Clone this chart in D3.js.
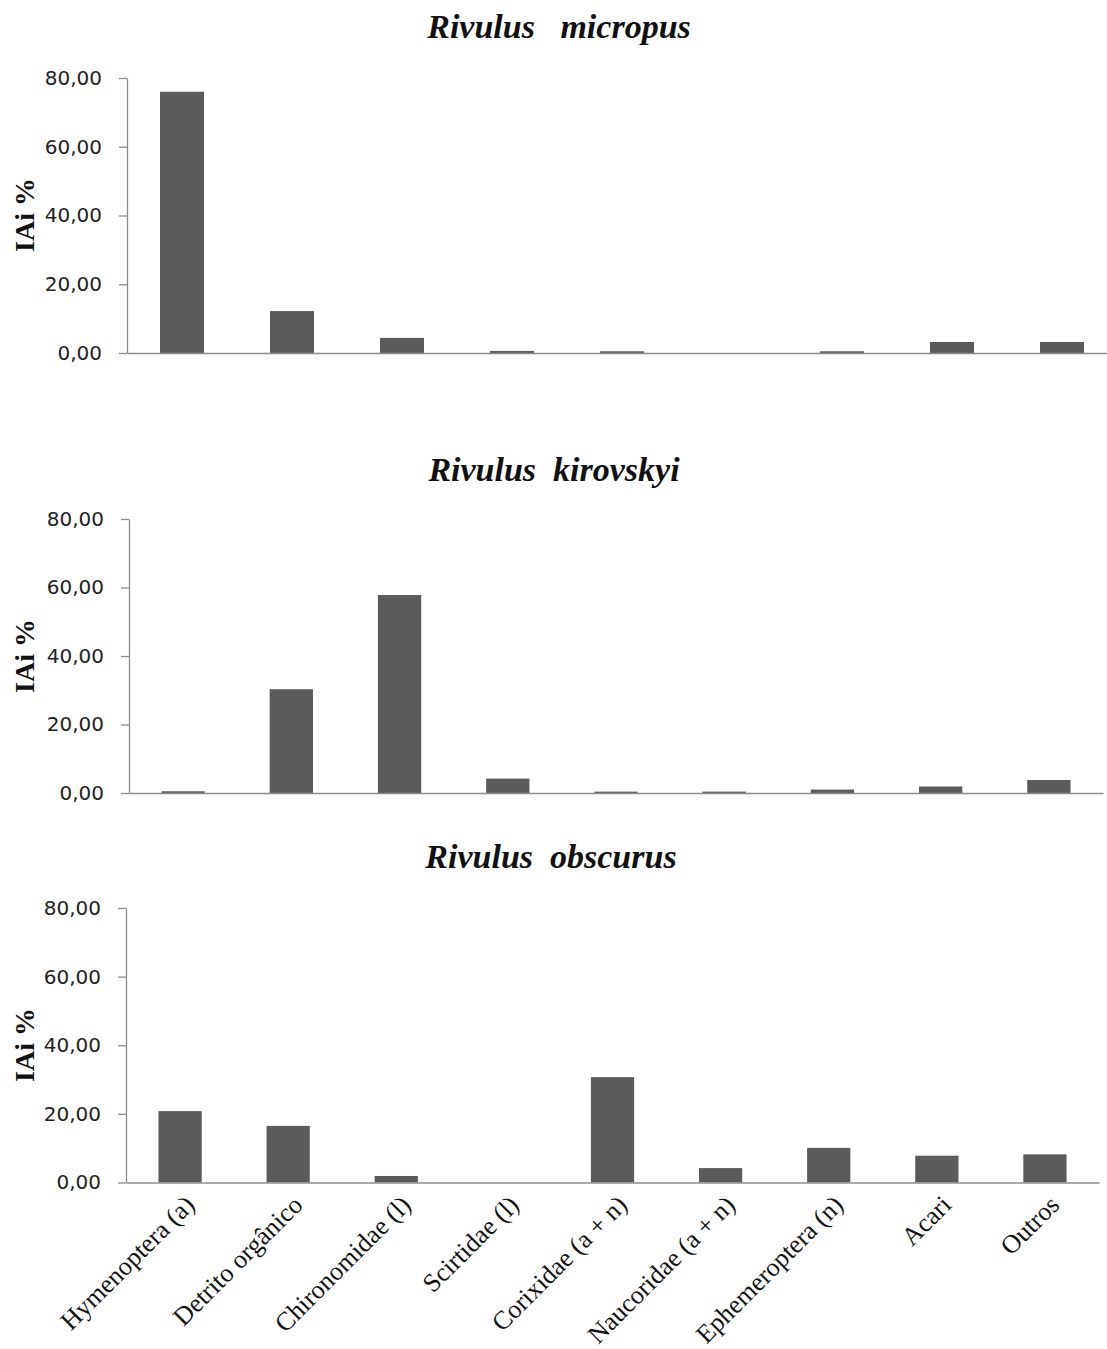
<!DOCTYPE html>
<html>
<head>
<meta charset="utf-8">
<script src="https://cdn.jsdelivr.net/npm/d3@7"></script>
<style>
  html, body { margin: 0; padding: 0; background: #fff; }
  svg { display: block; }
  .title { font-family: "Liberation Serif", "Times New Roman", serif; font-weight: bold; font-style: italic; white-space: pre; }
</style>
</head>
<body>
<svg id="chart" width="1107" height="1349"></svg>
<script>
// Prey categories (shared by all three panels)
const categories = [
  "Hymenoptera (a)", "Detrito orgânico", "Chironomidae (l)", "Scirtidae (l)",
  "Corixidae (a + n)", "Naucoridae (a + n)", "Ephemeroptera (n)", "Acari", "Outros"
];

// IAi % per species
const micropusValues  = [76.0, 12.2, 4.4, 0.6, 0.5, 0.0, 0.5, 3.2, 3.2];
const kirovskyiValues = [0.5, 30.3, 57.8, 4.2, 0.4, 0.4, 1.0, 1.9, 3.8];
const obscurusValues  = [20.8, 16.5, 1.9, 0.0, 30.7, 4.2, 10.1, 7.8, 8.2];

const speciesTitles = ["Rivulus   micropus", "Rivulus  kirovskyi", "Rivulus  obscurus"];
const yTicks = [0, 20, 40, 60, 80];
const yAxisTitle = "IAi %";

const svg = d3.select("#chart");
const ptBR = d3.formatLocale({ decimal: ",", thousands: ".", grouping: [3], currency: ["R$", ""] });
const fmt = ptBR.format(".2f");

const barColor = "#5b5b5b";
const axisColor = "#8c8c8c";

// Layout of each panel
const panels = [
  { values: micropusValues,  title: speciesTitles[0], titleX: 559, titleY: 38,  x0: 127, x1: 1117, yBase: 353,   yTop: 78,  labelY: 215 },
  { values: kirovskyiValues, title: speciesTitles[1], titleX: 554, titleY: 481, x0: 129, x1: 1103, yBase: 793,   yTop: 519, labelY: 656 },
  { values: obscurusValues,  title: speciesTitles[2], titleX: 551, titleY: 868, x0: 126, x1: 1099, yBase: 1182.5, yTop: 908, labelY: 1045, showCategories: true }
];

panels.forEach(p => {
  const g = svg.append("g");

  const x = d3.scaleBand().domain(categories).range([p.x0, p.x1]).paddingInner(0.6).paddingOuter(0.3);
  const y = d3.scaleLinear().domain([0, 80]).range([p.yBase, p.yTop]);

  // title
  g.append("text")
    .attr("class", "title")
    .attr("x", p.titleX).attr("y", p.titleY)
    .attr("text-anchor", "middle")
    .attr("font-size", 34)
    .attr("fill", "#111")
    .text(p.title);

  // bars
  g.selectAll("rect.bar")
    .data(categories.map((c, i) => ({ c, v: p.values[i] })))
    .join("rect")
    .attr("class", "bar")
    .attr("x", d => x(d.c))
    .attr("width", x.bandwidth())
    .attr("y", d => y(d.v))
    .attr("height", d => y(0) - y(d.v))
    .attr("fill", barColor);

  // value axis
  const yAxis = d3.axisLeft(y).tickValues(yTicks).tickFormat(fmt).tickSize(8).tickSizeOuter(0).tickPadding(17);
  const ya = g.append("g").attr("transform", `translate(${p.x0},0)`).call(yAxis);
  ya.select(".domain").attr("stroke", axisColor).attr("stroke-width", 1.3);
  ya.selectAll(".tick line").attr("stroke", axisColor).attr("stroke-width", 1.3);
  ya.selectAll(".tick text")
    .attr("font-family", "'DejaVu Sans', Verdana, sans-serif")
    .attr("font-size", 20)
    .attr("fill", "#222");

  // category axis baseline
  const xa = g.append("g").attr("transform", `translate(0,${p.yBase})`)
    .call(d3.axisBottom(x).tickSize(0).tickSizeOuter(0).tickFormat(""));
  xa.select(".domain").attr("stroke", axisColor).attr("stroke-width", 1.3);
  xa.selectAll(".tick").remove();

  // category labels (bottom panel only)
  if (p.showCategories) {
    g.selectAll("text.cat")
      .data(categories)
      .join("text")
      .attr("class", "cat")
      .attr("transform", d => `translate(${x(d) + x.bandwidth() / 2 + 16},${p.yBase + 24}) rotate(-45)`)
      .attr("text-anchor", "end")
      .attr("font-family", "'Liberation Serif', 'Times New Roman', serif")
      .attr("font-size", 26)
      .attr("fill", "#111")
      .text(d => d);
  }

  // value-axis title
  g.append("text")
    .attr("transform", `translate(34,${p.labelY}) rotate(-90)`)
    .attr("text-anchor", "middle")
    .attr("font-family", "'Liberation Serif', 'Times New Roman', serif")
    .attr("font-weight", "bold")
    .attr("font-size", 28)
    .attr("fill", "#111")
    .text(yAxisTitle);
});
</script>
</body>
</html>
